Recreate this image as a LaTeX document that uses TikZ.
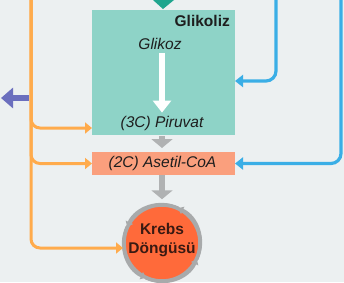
\documentclass[tikz,border=0pt]{standalone}
\usepackage{fontspec}
\setmainfont{Liberation Sans}
\usetikzlibrary{arrows.meta}
\definecolor{bg}{HTML}{ECF0F1}
\definecolor{tealbox}{HTML}{8ED3C7}
\definecolor{tealdark}{HTML}{1FA58E}
\definecolor{salmon}{HTML}{FA9F7D}
\definecolor{krebsc}{HTML}{FF6A3A}
\definecolor{grayarr}{HTML}{B0B2B3}
\definecolor{ringgray}{HTML}{A8AAAB}
\definecolor{orangel}{HTML}{FFAB4C}
\definecolor{bluel}{HTML}{3AAEE6}
\definecolor{purplel}{HTML}{6B6FBE}
\definecolor{txt}{HTML}{1E1E1E}
\definecolor{ktxt}{HTML}{3A1A12}
\tikzset{
  lbl/.style={inner sep=0pt, text=txt, font=\fontsize{15.5}{18}\selectfont\itshape},
  orangeline/.style={draw=orangel, line width=3pt, rounded corners=9pt, -{Triangle[length=7pt,width=11pt]}},
  blueline/.style={draw=bluel, line width=3.2pt, rounded corners=10pt, -{Triangle[length=8pt,width=12pt]}},
  grayarrow/.style={draw=grayarr, line width=6pt, -{Triangle[length=9pt,width=21pt]}},
  ringarrow/.style={draw=ringgray, line width=3.5pt, -{Triangle[length=5pt,width=8pt]}},
}
\begin{document}
\begin{tikzpicture}[x=1pt,y=-1pt]
\fill[bg] (0,0) rectangle (344,282);
\useasboundingbox (0,0) rectangle (344,282);

% teal triangle at top
\fill[tealdark] (153,0) -- (174,0) -- (163,9) -- cycle;

% boxes
\node[fill=tealbox, minimum width=143pt, minimum height=125pt, inner sep=0pt, anchor=north west] (glik) at (92,10) {};
\node[fill=salmon, minimum width=143pt, minimum height=23pt, inner sep=0pt, anchor=north west] (asetil) at (92,152) {};
\node[circle, fill=krebsc, draw=ringgray, line width=3.5pt, minimum size=76pt, inner sep=0pt] (krebs) at (162,243) {};

% texts
\node[lbl, font=\fontsize{15.5}{18}\selectfont\bfseries, anchor=east] (glikoliz) at (230,21) {Glikoliz};
\node[lbl] (glikoz) at (160,44) {Glikoz};
\node[lbl] (piruvat) at (162,123) {(3C) Piruvat};
\node[lbl] (asetiltxt) at (162.5,163.5) {(2C) Asetil-CoA};
\node[inner sep=0pt, align=center, text=ktxt, font=\fontsize{15.5}{19}\selectfont\bfseries] (krebstxt) at (162,240) {Krebs\\Döngüsü};

% ring arrows
\foreach \a/\b in {115/25, 25/-65, -65/-155, -155/-245}{
  \draw[ringarrow] (krebs.center) ++(\a:38.3) arc[start angle=\a, end angle=\b, radius=38.3];
}

% white arrow
\draw[draw=white, line width=6pt, -{Triangle[length=12pt,width=18pt]}, shorten <=3pt, shorten >=3pt] (glikoz.south -| piruvat.north) -- (piruvat.north);

% gray arrows
\draw[grayarrow, shorten <=1pt, shorten >=4pt] (glik.south -| 162,0) -- (asetil.north -| 162,0);
\draw[grayarrow, shorten >=4pt] (asetil.south -| 162,0) -- (krebs.north);

% orange lines
\coordinate (otop) at (31,0);
\coordinate (og) at (92,128);
\coordinate (oa) at (92,163.5);
\coordinate (ok) at (123,248);
\draw[orangeline] (otop) |- (og);
\draw[orangeline] (otop) |- (oa);
\draw[orangeline] (otop) |- (ok);

% purple arrow
\coordinate (pstart) at (29,98);
\coordinate (pend) at (1,98);
\draw[draw=purplel, line width=6pt, -{Triangle[length=12pt,width=20pt]}] (pstart) -- (pend);

% blue lines
\coordinate (b1top) at (276,0);
\coordinate (b1end) at (235,81);
\coordinate (b2top) at (341,0);
\coordinate (b2end) at (235,163.5);
\draw[blueline] (b1top) |- (b1end);
\draw[blueline] (b2top) |- (b2end);
\end{tikzpicture}
\end{document}
